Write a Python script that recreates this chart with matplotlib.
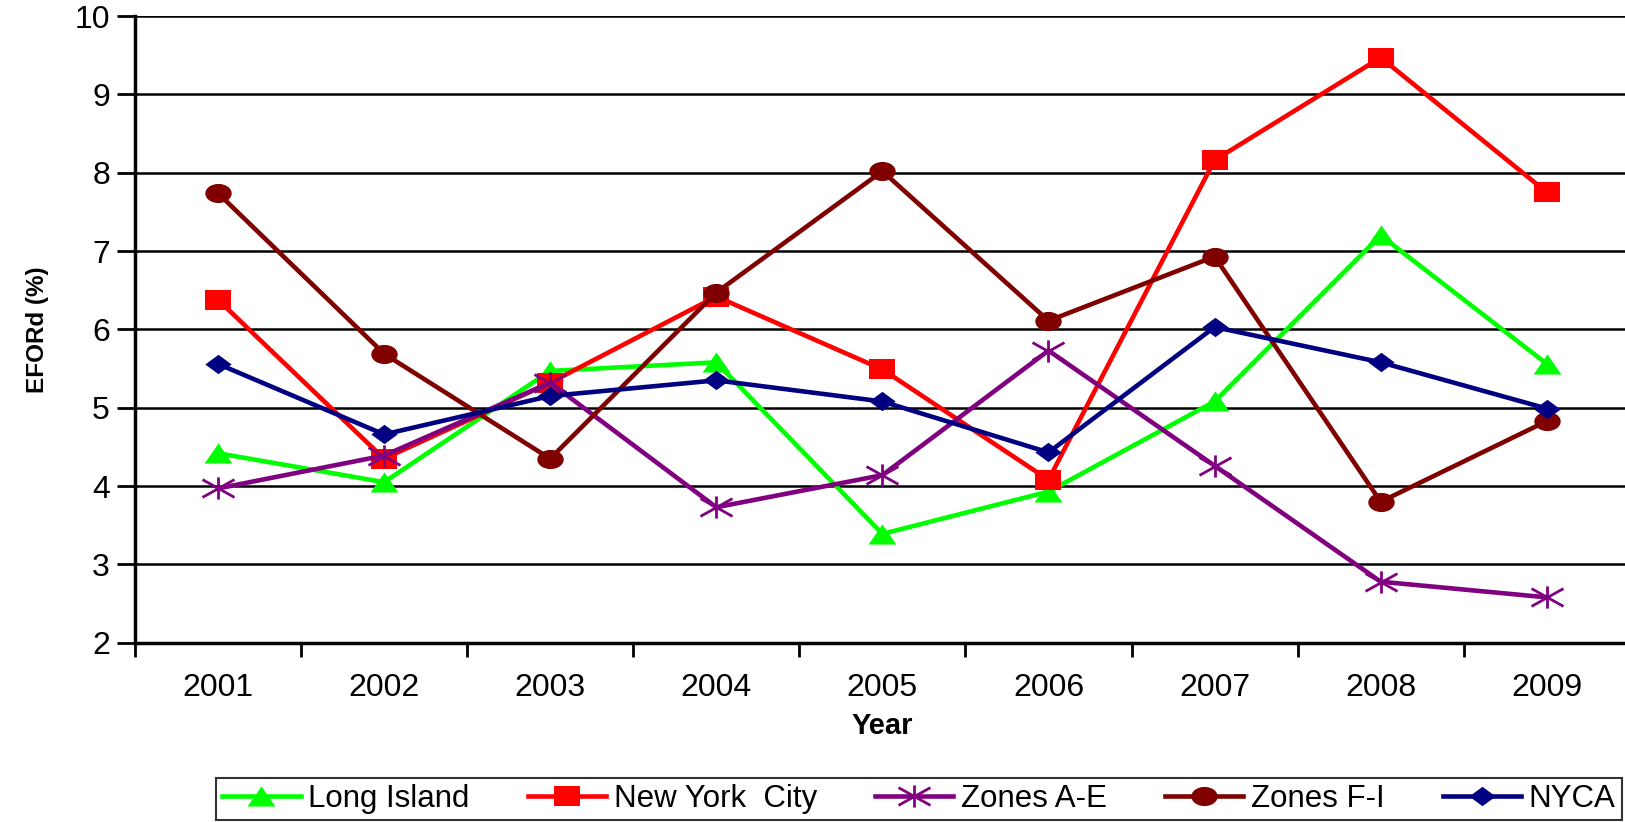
import numpy as np
import matplotlib
matplotlib.use("Agg")
import matplotlib.pyplot as plt
from matplotlib.path import Path

years = ["2001", "2002", "2003", "2004", "2005", "2006", "2007", "2008", "2009"]
long_island = [4.42, 4.05, 5.47, 5.58, 3.39, 3.93, 5.08, 7.20, 5.56]
new_york_city = [6.38, 4.35, 5.32, 6.42, 5.49, 4.08, 8.16, 9.47, 7.75]
zones_a_e = [3.97, 4.39, 5.32, 3.73, 4.14, 5.73, 4.26, 2.78, 2.58]
zones_f_i = [7.74, 5.69, 4.35, 6.47, 8.02, 6.11, 6.93, 3.80, 4.83]
nyca = [5.56, 4.66, 5.15, 5.35, 5.08, 4.43, 6.03, 5.58, 4.99]

plt.rcParams['font.family'] = ['Liberation Sans', 'DejaVu Sans']

# the original chart is stretched sideways, so the markers are too
sx = 1.38
tri = Path([(0, 0.5), (sx / 2, -0.5), (-sx / 2, -0.5), (0, 0.5)],
           [Path.MOVETO, Path.LINETO, Path.LINETO, Path.CLOSEPOLY])
sq = Path([(-sx / 2, -0.5), (sx / 2, -0.5), (sx / 2, 0.5), (-sx / 2, 0.5), (-sx / 2, -0.5)],
          [Path.MOVETO, Path.LINETO, Path.LINETO, Path.LINETO, Path.CLOSEPOLY])
circ = Path(Path.unit_circle().vertices * [sx, 1.0], Path.unit_circle().codes)
dia = Path([(0, 0.5), (0.68, 0), (0, -0.5), (-0.68, 0), (0, 0.5)],
           [Path.MOVETO, Path.LINETO, Path.LINETO, Path.LINETO, Path.CLOSEPOLY])
star = Path([(0, -0.5), (0, 0.5), (-0.72, 0.4), (0.72, -0.4), (-0.72, -0.4), (0.72, 0.4)],
            [Path.MOVETO, Path.LINETO, Path.MOVETO, Path.LINETO, Path.MOVETO, Path.LINETO])

fig = plt.figure(figsize=(16.25, 8.22), dpi=100)
ax = fig.add_axes([0.083, 0.218, 0.92, 0.7625])

x = np.arange(len(years))
series = [
    ("Long Island", long_island, "#00FF00", tri, 20, 0, True),
    ("New York  City", new_york_city, "#FF0000", sq, 19, 0, True),
    ("Zones A-E", zones_a_e, "#800080", star, 23, 2, False),
    ("Zones F-I", zones_f_i, "#800000", circ, 19, 0, True),
    ("NYCA", nyca, "#000080", dia, 19, 0, True),
]
for label, vals, col, mk, ms, mew, filled in series:
    ax.plot(x, vals, color=col, lw=3.3, marker=mk, markersize=ms,
            markerfacecolor=col if filled else "none", markeredgecolor=col,
            markeredgewidth=mew, label=label, clip_on=False)

ax.set_ylim(2, 10)
ax.set_xlim(-0.5, len(years) - 0.5)
ax.set_yticks(range(2, 11))
ax.yaxis.grid(True, color="black", lw=1.8)
ax.set_axisbelow(True)

# labels centred on the categories, tick marks on the boundaries
ax.set_xticks(x)
ax.set_xticklabels(years)
ax.set_xticks(np.arange(-0.5, len(years), 1), minor=True)
ax.tick_params(axis="x", which="major", length=0, pad=22, labelsize=23)
ax.tick_params(axis="x", which="minor", length=10, width=2, direction="out")
ax.tick_params(axis="y", length=13, width=2, direction="out", pad=5, labelsize=23)

for s in ["top", "right"]:
    ax.spines[s].set_visible(False)
ax.spines["left"].set_linewidth(2.5)
ax.spines["bottom"].set_linewidth(2.5)

ax.set_xlabel("Year", fontsize=21, fontweight="bold", labelpad=6)
ax.set_ylabel("EFORd (%)", fontsize=17.5, fontweight="bold", labelpad=18)

leg = fig.legend(loc="lower left", bbox_to_anchor=(0.133, 0.002, 0.865, 0.058),
                 mode="expand", ncol=5, fontsize=22.5, frameon=True, fancybox=False,
                 handlelength=2.5, handletextpad=0.25, borderaxespad=0,
                 columnspacing=0.8, borderpad=0.2)
leg.get_frame().set_edgecolor("black")
leg.get_frame().set_linewidth(1.5)

fig.savefig("out.png", dpi=100)
